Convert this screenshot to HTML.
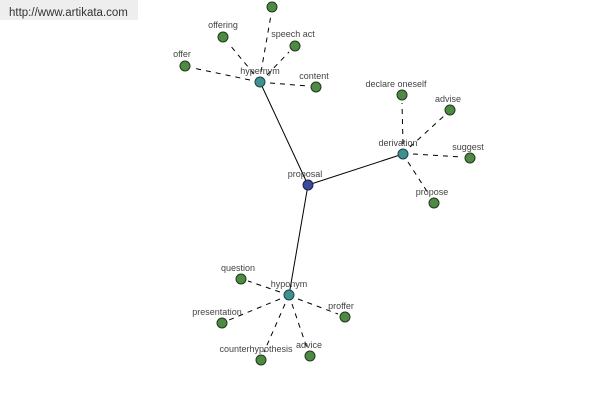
<!DOCTYPE html>
<html><head><meta charset="utf-8"><style>
html,body{margin:0;padding:0;background:#fff;width:600px;height:400px;overflow:hidden}
svg text{font-family:"Liberation Sans",sans-serif;font-size:9px;fill:#444;text-anchor:middle}
</style></head><body>
<svg width="600" height="400" xmlns="http://www.w3.org/2000/svg">
<rect x="0" y="0" width="138" height="20" fill="#eeeeee"/>
<text x="9" y="16" style="font-size:11.5px;text-anchor:start;fill:#333">http://www.artikata.com</text>
<g stroke="#000" stroke-width="1">
<line x1="308" y1="185" x2="260" y2="82"/>
<line x1="308" y1="185" x2="403" y2="154"/>
<line x1="308" y1="185" x2="289" y2="295"/>
</g>
<g stroke="#000" stroke-width="1" stroke-dasharray="5,5">
<line x1="261" y1="72" x2="271" y2="15"/>
<line x1="254" y1="74" x2="229" y2="44"/>
<line x1="267" y1="75" x2="289" y2="52"/>
<line x1="250" y1="80" x2="193" y2="68"/>
<line x1="270" y1="83" x2="308" y2="86"/>
<line x1="403" y1="144" x2="402" y2="103"/>
<line x1="410" y1="147" x2="444" y2="116"/>
<line x1="413" y1="154" x2="462" y2="157"/>
<line x1="408" y1="162" x2="430" y2="196"/>
<line x1="280" y1="292" x2="248" y2="281"/>
<line x1="280" y1="299" x2="229" y2="320"/>
<line x1="298" y1="299" x2="338" y2="314"/>
<line x1="285" y1="304" x2="264" y2="352"/>
<line x1="292" y1="304" x2="307" y2="348"/>
</g>
<g fill="#4f8a45" stroke="#1f3a1a" stroke-width="1">
<circle cx="272" cy="7" r="5"/>
<circle cx="223" cy="37" r="5"/>
<circle cx="295" cy="46" r="5"/>
<circle cx="185" cy="66" r="5"/>
<circle cx="316" cy="87" r="5"/>
<circle cx="402" cy="95" r="5"/>
<circle cx="450" cy="110" r="5"/>
<circle cx="470" cy="158" r="5"/>
<circle cx="434" cy="203" r="5"/>
<circle cx="241" cy="279" r="5"/>
<circle cx="222" cy="323" r="5"/>
<circle cx="345" cy="317" r="5"/>
<circle cx="261" cy="360" r="5"/>
<circle cx="310" cy="356" r="5"/>
</g>
<g fill="#3f9090" stroke="#1d4444" stroke-width="1">
<circle cx="260" cy="82" r="5"/>
<circle cx="403" cy="154" r="5"/>
<circle cx="289" cy="295" r="5"/>
</g>
<circle cx="308" cy="185" r="5" fill="#3a4a9a" stroke="#1a2050"/>
<text x="223" y="28">offering</text>
<text x="293" y="37">speech act</text>
<text x="182" y="57">offer</text>
<text x="260" y="74">hypernym</text>
<text x="314" y="79">content</text>
<text x="396" y="87">declare oneself</text>
<text x="448" y="102">advise</text>
<text x="468" y="150">suggest</text>
<text x="398" y="146">derivation</text>
<text x="432" y="195">propose</text>
<text x="305" y="177">proposal</text>
<text x="238" y="271">question</text>
<text x="289" y="287">hyponym</text>
<text x="217" y="315">presentation</text>
<text x="341" y="309">proffer</text>
<text x="256" y="352">counterhypothesis</text>
<text x="309" y="348">advice</text>
</svg>
</body></html>
